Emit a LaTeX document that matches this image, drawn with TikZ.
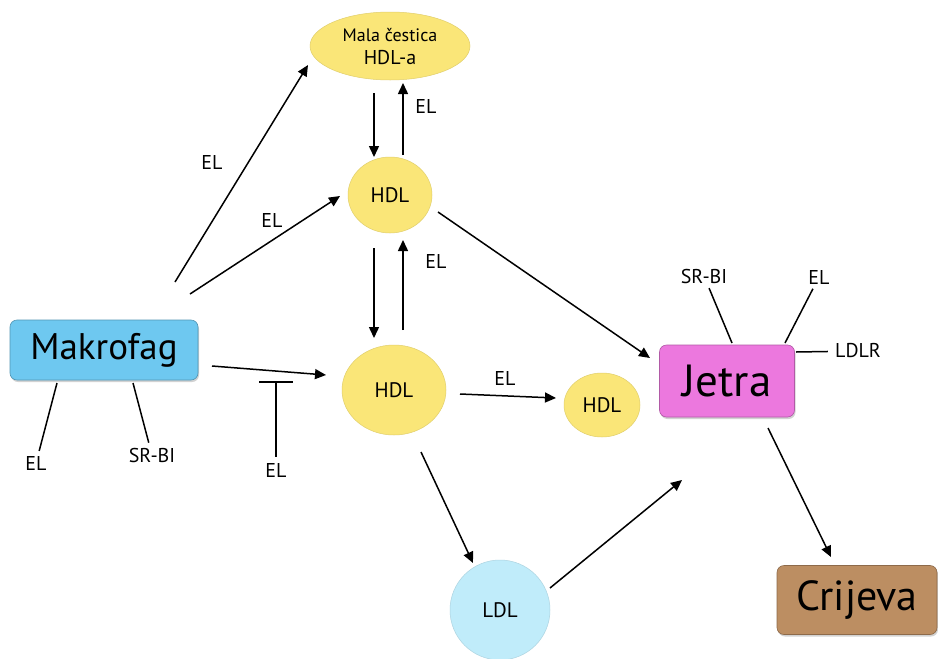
\documentclass[tikz,border=0pt]{standalone}
\usepackage{fontspec}
\setmainfont{PT Sans}
\usetikzlibrary{shapes.geometric,arrows.meta,shadows}

\definecolor{makroc}{RGB}{110,200,240}
\definecolor{yelc}{RGB}{250,230,120}
\definecolor{ldlc}{RGB}{192,236,250}
\definecolor{jetc}{RGB}{236,120,222}
\definecolor{crijc}{RGB}{188,142,98}

\begin{document}
\begin{tikzpicture}[x=1pt, y=-1pt,
  box/.style={rounded corners=7pt, draw=#1!75!black, fill=#1, line width=0.6pt, inner sep=0pt,
    drop shadow={shadow xshift=1pt, shadow yshift=-2pt, opacity=0.35}},
  particle/.style={ellipse, fill=#1, draw=#1!90!black, line width=0.5pt, inner sep=0pt, align=center},
  arr/.style={-{Triangle[length=11pt, width=10pt]}, line width=1.5pt},
  rec/.style={line width=1.5pt},
  lbl/.style={font=\fontsize{20}{23}\selectfont, inner sep=1pt}]
\useasboundingbox (0,0) rectangle (938,659);
\fill[white] (0,0) rectangle (938,659);

% cells and particles
\node [box=makroc, minimum width=188pt, minimum height=60pt, font=\fontsize{37}{42}\selectfont] (mak) at (104,350) {Makrofag};
\node [box=jetc, minimum width=135pt, minimum height=72pt, font=\fontsize{45}{50}\selectfont] (jet) at (727,381) {Jetra};
\node [box=crijc, minimum width=160pt, minimum height=69pt, font=\fontsize{42}{48}\selectfont] (cri) at (857,600) {Crijeva};
\node [particle=yelc, minimum width=160pt, minimum height=68pt, font=\fontsize{18}{23}\selectfont] (mala) at (390,46) {Mala čestica\\\fontsize{20}{23}\selectfont HDL-a};
\node [particle=yelc, minimum width=84pt, minimum height=76pt, font=\fontsize{21}{24}\selectfont] (hdlA) at (390,195) {HDL};
\node [particle=yelc, minimum width=104pt, minimum height=90pt, font=\fontsize{21}{24}\selectfont] (hdlB) at (394,390) {HDL};
\node [particle=yelc, minimum width=76pt, minimum height=64pt, font=\fontsize{21}{24}\selectfont] (hdlC) at (602,405) {HDL};
\node [particle=ldlc, minimum width=100pt, minimum height=100pt, font=\fontsize{21}{24}\selectfont] (ldl) at (500,610) {LDL};

% labels
\node [lbl] (el1) at (212,162) {EL};
\node [lbl] (el2) at (272,220) {EL};
\node [lbl] (el3) at (426,106) {EL};
\node [lbl] (el4) at (436,261) {EL};
\node [lbl] (el5) at (505,378) {EL};
\node [lbl] (elI) at (276,470) {EL};
\node [lbl] (elM) at (36,463) {EL};
\node [lbl] (srM) at (152,455) {SR-BI};
\node [lbl] (srJ) at (704,276) {SR-BI};
\node [lbl] (elJ) at (819,277) {EL};
\node [lbl] (ldlr) at (858,351) {LDLR};
\coordinate (inh) at (276,381);

% transport
\draw [arr] ([shift={(71,-68)}]mak.center) -- ([shift={(-82,19)}]mala.center);
\draw [arr] ([shift={(86,-56)}]mak.center) -- ([shift={(-50,1)}]hdlA.center);
\draw [arr] ([shift={(-16,47)}]mala.center) -- ([shift={(-16,-38)}]hdlA.center);
\draw [arr] ([shift={(13,-40)}]hdlA.center) -- ([shift={(13,37)}]mala.center);
\draw [arr] ([shift={(-16,53)}]hdlA.center) -- ([shift={(-20,-52)}]hdlB.center);
\draw [arr] ([shift={(9,-60)}]hdlB.center) -- ([shift={(13,45)}]hdlA.center);
\draw [arr] ([shift={(48,17)}]hdlA.center) -- ([shift={(-77,-23)}]jet.center);
\draw [arr] ([shift={(108,16)}]mak.center) -- ([shift={(-68,-15)}]hdlB.center);
\draw [arr] ([shift={(66,4)}]hdlB.center) -- ([shift={(-46,-7)}]hdlC.center);
\draw [arr] ([shift={(27,62)}]hdlB.center) -- ([shift={(-27,-47)}]ldl.center);
\draw [arr] ([shift={(50,-22)}]ldl.center) -- ([shift={(-45,99)}]jet.center);
\draw [arr] ([shift={(41,47)}]jet.center) -- ([shift={(-26,-43)}]cri.center);
\draw [rec, -{Bar[width=34pt]}, shorten <=5pt] (elI) -- (inh);

% receptors
\draw [rec, shorten >=4pt] ([shift={(-47,33)}]mak.center) -- (elM);
\draw [rec, shorten >=4pt] ([shift={(29,33)}]mak.center) -- (srM);
\draw [rec, shorten >=4pt] ([shift={(5,-38)}]jet.center) -- (srJ);
\draw [rec, shorten >=4pt] ([shift={(58,-38)}]jet.center) -- (elJ);
\draw [rec, shorten >=6pt] ([shift={(69,-29)}]jet.center) -- (ldlr);
\end{tikzpicture}
\end{document}
